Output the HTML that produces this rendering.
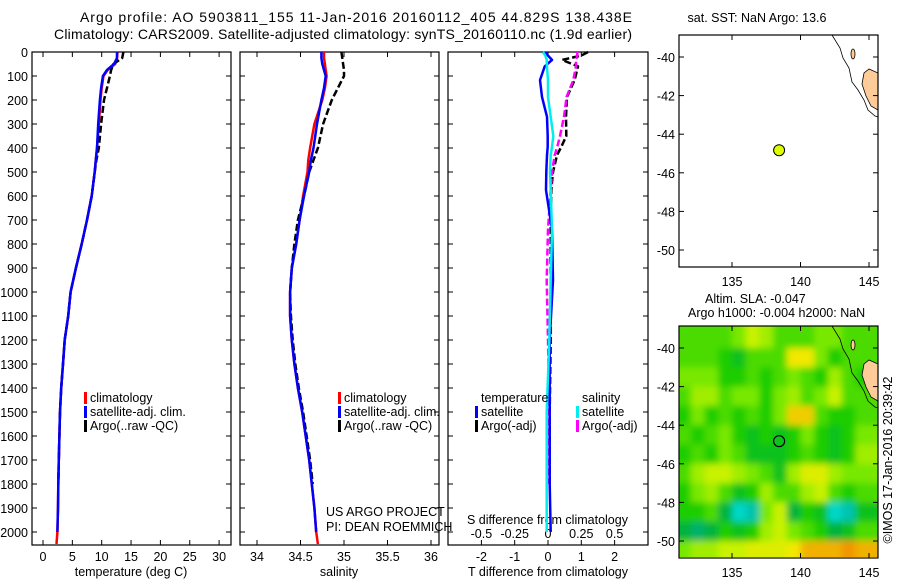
<!DOCTYPE html>
<html><head><meta charset="utf-8"><style>
body{margin:0;background:#fff}
svg{display:block;font-family:"Liberation Sans",sans-serif}
text{font-size:12.5px;fill:#000}
</style></head><body>
<svg id="s" width="900" height="580" viewBox="0 0 900 580">
<defs>
<filter id="blur" x="-10%" y="-10%" width="120%" height="120%"><feGaussianBlur stdDeviation="3.5"/></filter>
<clipPath id="mapclip"><rect x="679" y="326" width="199" height="231"/></clipPath>
</defs>
<text x="80" y="22" style="font-size:14px" textLength="552">Argo profile: AO 5903811_155 11-Jan-2016 20160112_405 44.829S 138.438E</text>
<text x="54" y="39" style="font-size:14px" textLength="578">Climatology: CARS2009. Satellite-adjusted climatology: synTS_20160110.nc (1.9d earlier)</text>
<g id="g"></g>
</svg>
<script>
// ---- data ----
const depths=[0,25,50,75,100,150,200,300,400,450,500,600,700,800,900,1000,1100,1200,1300,1400,1500,1600,1700,1800,1900,2000,2050];
const climT=[12.7,12.6,12.3,11.0,10.3,10.0,9.8,9.5,9.2,9.0,8.8,8.3,7.5,6.6,5.6,4.7,4.3,3.7,3.4,3.1,2.9,2.8,2.7,2.6,2.55,2.45,2.3];
const satT=[12.6,12.6,12.1,10.9,10.2,9.9,9.7,9.4,9.2,9.0,8.8,8.3,7.5,6.6,5.6,4.7,4.3,3.7,3.4,3.1,2.9,2.8,2.7,2.6,2.55,2.45,null];
const argoT=[13.7,13.5,12.0,11.6,11.4,10.9,10.4,9.9,9.5,9.1,8.8,8.3,7.5,6.6,5.6,4.7,4.3,3.7,3.4,3.1,2.9,2.8,2.7,2.6,null,null,null];
const climS=[34.77,34.77,34.78,34.79,34.80,34.78,34.75,34.66,34.61,34.59,34.58,34.53,34.49,34.45,34.40,34.38,34.38,34.40,34.43,34.47,34.52,34.56,34.60,34.63,34.66,34.68,34.70];
const satS=[34.74,34.74,34.75,34.77,34.79,34.77,34.74,34.69,34.65,34.62,34.60,34.54,34.49,34.45,34.40,34.38,34.38,34.40,34.43,34.47,34.52,34.56,34.60,34.63,34.66,34.68,null];
const argoS=[34.97,34.98,34.99,35.0,35.0,34.93,34.86,34.76,34.70,34.65,34.60,34.54,34.47,34.43,34.40,34.38,34.39,34.41,34.44,34.48,34.53,34.57,34.61,34.64,null,null,null];
const diffDepths=[0,15,33,60,117,187,270,350,395,430,500,575,740,950,1200,1500,1800,2000];
const satTdiff=[-0.09,0.0,0.12,-0.1,-0.24,-0.18,-0.03,-0.01,-0.01,-0.03,-0.05,-0.06,0.12,0.15,0.05,0.05,0.05,0.08];
const argoTdiff=[1.2,1.0,0.42,0.9,0.8,0.57,0.54,0.55,0.4,0.27,0.15,0.1,0.08,0.08,0.08,0.05,0.05,null];
const satSdiff=[-0.038,-0.02,-0.01,-0.008,0,0,0.02,0.04,0.03,0.02,0.015,0.02,0.03,0.02,0.01,-0.01,-0.01,-0.01];
const argoSdiff=[0.22,0.22,0.21,0.21,0.19,0.14,0.12,0.09,0.07,0.05,0.03,0.02,0.0,-0.01,0.0,0.01,0.01,null];
const depthTicks=[0,100,200,300,400,500,600,700,800,900,1000,1100,1200,1300,1400,1500,1600,1700,1800,1900,2000];
const tTicks=[0,5,10,15,20,25,30];
const sTicks=[34,34.5,35,35.5,36];
const tdTicks=[-2,-1,0,1,2];
const sdTicks=[-0.5,-0.25,0,0.25,0.5];
const sdTickLabels=["-0.5","-0.25","0","0.25","0.5"];
const latTicks=[-40,-42,-44,-46,-48,-50];
const lonTicks=[135,140,145];
const argoLon=138.438, argoLat=-44.829;
const slaLats=[-39.5,-40.5,-41.5,-42.5,-43.5,-44.5,-45.5,-46.5,-47.5,-48.5,-49.5,-50.5];
const slaLons=[131.5,132.5,133.5,134.5,135.5,136.5,137.5,138.5,139.5,140.5,141.5,142.5,143.5,144.5,145.5];
const slaGrid=[
[0.5,0.5,0.5,0.5,0.55,0.65,0.6,0.5,0.5,0.5,0.55,0.55,0.5,0.5,0.5],
[0.5,0.5,0.5,0.45,0.4,0.5,0.5,0.5,0.75,0.75,0.55,0.45,0.5,0.5,0.5],
[0.55,0.55,0.55,0.45,0.45,0.5,0.45,0.5,0.55,0.5,0.45,0.6,0.5,0.45,0.45],
[0.5,0.6,0.6,0.5,0.55,0.55,0.45,0.55,0.6,0.5,0.55,0.65,0.5,0.5,0.5],
[0.45,0.55,0.45,0.5,0.45,0.5,0.45,0.55,0.8,0.8,0.5,0.45,0.45,0.5,0.5],
[0.5,0.45,0.5,0.55,0.45,0.4,0.45,0.4,0.45,0.55,0.45,0.4,0.45,0.55,0.55],
[0.45,0.5,0.45,0.55,0.5,0.4,0.4,0.4,0.45,0.5,0.45,0.4,0.45,0.6,0.6],
[0.5,0.6,0.65,0.65,0.6,0.55,0.5,0.4,0.6,0.7,0.7,0.6,0.55,0.55,0.55],
[0.45,0.55,0.6,0.5,0.4,0.45,0.6,0.5,0.5,0.6,0.65,0.5,0.45,0.5,0.5],
[0.45,0.45,0.5,0.35,0.15,0.2,0.55,0.65,0.35,0.45,0.4,0.15,0.2,0.4,0.4],
[0.35,0.3,0.35,0.45,0.4,0.45,0.6,0.65,0.55,0.5,0.45,0.35,0.4,0.5,0.5],
[0.55,0.6,0.6,0.65,0.65,0.7,0.7,0.7,0.75,0.85,0.85,0.85,0.9,0.85,0.85]];

const NS="http://www.w3.org/2000/svg", G=document.getElementById('g');
function el(t,a,p){const e=document.createElementNS(NS,t);for(const k in a)e.setAttribute(k,a[k]);(p||G).appendChild(e);return e;}
function txt(x,y,s,anchor,p){const e=el('text',{x:x,y:y,'text-anchor':anchor||'start'},p);e.textContent=s;return e;}
const yD=d=>52+d*0.24;
const xT=v=>43+v*5.87;
const xS=v=>257+(v-34)*87;
const xTd=v=>548+v*33.3;
const xSd=v=>548+v*133.2;
function frame(x,w,name){const r=el('rect',{x:x,y:52,width:w,height:493,fill:'none',stroke:'#000','stroke-width':1.2});

depthTicks.forEach(d=>{el('line',{x1:x,x2:x+5,y1:yD(d),y2:yD(d),stroke:'#000'});el('line',{x1:x+w-5,x2:x+w,y1:yD(d),y2:yD(d),stroke:'#000'});});}
frame(32,199,'temperature-panel');frame(240,199,'salinity-panel');frame(448,200,'difference-panel');
depthTicks.forEach(d=>{const t=txt(28,yD(d)+5,String(d),'end');});
function xticks(vals,fx,labels,ly){vals.forEach((v,i)=>{const x=fx(v);el('line',{x1:x,x2:x,y1:52,y2:57,stroke:'#000'});el('line',{x1:x,x2:x,y1:540,y2:545,stroke:'#000'});
const t=txt(x,ly,labels?labels[i]:String(v),'middle');});}
xticks(tTicks,xT,null,561);xticks(sTicks,xS,null,561);xticks(tdTicks,xTd,null,561);
sdTicks.forEach((v,i)=>{const t=txt(xSd(v),538,sdTickLabels[i],'middle');});
[[131,'temperature (deg C)','x-axis-title-temperature'],[339,'salinity','x-axis-title-salinity'],[548,'T difference from climatology','x-axis-title-t-diff']].forEach(a=>{const t=txt(a[0],576,a[1],'middle');});
{const t=txt(467,524,'S difference from climatology');}
function line(vals,ys,fx,color,dash,name,w){let pts=[];vals.forEach((v,i)=>{if(v!==null)pts.push(fx(v).toFixed(1)+','+yD(ys[i]).toFixed(1));});
const p=el('polyline',{points:pts.join(' '),fill:'none',stroke:color,'stroke-width':w||2.5,'stroke-linejoin':'round'});
if(dash)p.setAttribute('stroke-dasharray',dash);}
line(climT,depths,xT,'#f00',null,'temperature-climatology-line');
line(argoT,depths,xT,'#000','7,3','temperature-argo-line');
line(satT,depths,xT,'#00f',null,'temperature-satellite-line');
line(climS,depths,xS,'#f00',null,'salinity-climatology-line');
line(argoS,depths,xS,'#000','7,3','salinity-argo-line');
line(satS,depths,xS,'#00f',null,'salinity-satellite-line');
line(argoTdiff,diffDepths,xTd,'#000','7,3','t-diff-argo-line');
line(argoSdiff,diffDepths,xSd,'#f0f','7,3','s-diff-argo-line');
line(satTdiff,diffDepths,xTd,'#00f',null,'t-diff-satellite-line');
line(satSdiff,diffDepths,xSd,'#0ee',null,'s-diff-satellite-line');
function leg(x,y,c,s,name){el('rect',{x:x-6,y:y-10,width:3,height:12,fill:c});const t=txt(x,y,s);}
[[90,84],[344,338]].forEach(p=>{leg(p[0],402,'#f00','climatology','legend-climatology');leg(p[0],416,'#00f','satellite-adj. clim.','legend-satellite-adj');leg(p[0],430,'#000','Argo(..raw -QC)','legend-argo');});
{const t=txt(481,402,'temperature');
const u=txt(582,402,'salinity');}
leg(481,416,'#00f','satellite','legend-t-satellite');leg(481,430,'#000','Argo(-adj)','legend-t-argo');
leg(582,416,'#0ee','satellite','legend-s-satellite');leg(582,430,'#f0f','Argo(-adj)','legend-s-argo');
{const t=txt(326,516,'US ARGO PROJECT');
const u=txt(326,531,'PI: DEAN ROEMMICH');}
function map(oy){const lx=l=>732+(l-135)*13.7, ly=l=>oy+22+(-40-l)*19.3;return {lx,ly};}
const m1=map(35),m2=map(326);
const hg=el('g',{'clip-path':'url(#mapclip)'});
const hb=el('g',{filter:'url(#blur)'},hg);
function cmap(v){const st=[[0.1,[0,235,225]],[0.25,[0,175,150]],[0.35,[0,180,60]],[0.45,[30,205,0]],[0.55,[120,232,0]],[0.65,[200,242,0]],[0.75,[242,232,0]],[0.9,[240,150,0]]];
if(v<=st[0][0])return 'rgb('+st[0][1]+')';for(let i=1;i<st.length;i++){if(v<=st[i][0]){const f=(v-st[i-1][0])/(st[i][0]-st[i-1][0]);const c=st[i-1][1].map((a,k)=>Math.round(a+(st[i][1][k]-a)*f));return 'rgb('+c+')';}}return 'rgb('+st[st.length-1][1]+')';}
slaGrid.forEach((row,r)=>row.forEach((v,c)=>{let x0=m2.lx(slaLons[c]-0.5),x1=m2.lx(slaLons[c]+0.5),y0=m2.ly(slaLats[r]+0.5),y1=m2.ly(slaLats[r]-0.5);
if(c===0)x0-=15;if(c===row.length-1)x1+=15;if(r===0)y0-=15;if(r===slaGrid.length-1)y1+=15;
const e=el('rect',{x:x0,y:y0,width:x1-x0+0.5,height:y1-y0+0.5,fill:cmap(v)},hb);

}));
[[35,m1,'sst-map'],[326,m2,'sla-map']].forEach(([oy,m,name])=>{
const d=oy-35;
el('path',{d:`M853,${54+d} m-2,0 a2,5 0 1,0 4,0 a2,5 0 1,0 -4,0`,fill:'#fc9',stroke:'#000','stroke-width':0.8});
el('path',{d:`M878,${110+d} L871,${106+d} L866,${96+d} L862,${84+d} L864,${73+d} L869,${69+d} L878,${73+d} Z`,fill:'#fc9',stroke:'#000','stroke-width':0.8});
el('polyline',{points:`832,${35+d} 840,${48+d} 843,${58+d} 849,${68+d} 852,${82+d} 858,${90+d} 864,${100+d} 868,${110+d} 875,${116+d} 878,${117+d}`,fill:'none',stroke:'#000','stroke-width':0.8});
const r=el('rect',{x:679,y:oy,width:199,height:232,fill:'none',stroke:'#000','stroke-width':1.2});

latTicks.forEach(l=>{const y=m.ly(l);el('line',{x1:679,x2:684,y1:y,y2:y,stroke:'#000'});el('line',{x1:873,x2:878,y1:y,y2:y,stroke:'#000'});const t=txt(675,y+5,String(l),'end');});
lonTicks.forEach(l=>{const x=m.lx(l);el('line',{x1:x,x2:x,y1:oy,y2:oy+5,stroke:'#000'});el('line',{x1:x,x2:x,y1:oy+227,y2:oy+232,stroke:'#000'});const t=txt(x,oy+251,String(l),'middle');});
});
{const c=el('circle',{cx:m1.lx(argoLon),cy:m1.ly(argoLat),r:5.5,fill:'#df0',stroke:'#000'});
const c2=el('circle',{cx:m2.lx(argoLon),cy:m2.ly(argoLat),r:5.5,fill:'none',stroke:'#000','stroke-width':1.2});}
{const t=txt(757,22,'sat. SST: NaN Argo: 13.6','middle');
const a=txt(705,303,'Altim. SLA: -0.047');
const b=txt(688,317,'Argo h1000: -0.004 h2000: NaN');
const v=txt(0,0,'©IMOS 17-Jan-2016 20:39:42','middle');v.setAttribute('transform','translate(892,460) rotate(-90)');}
</script>
</body></html>
